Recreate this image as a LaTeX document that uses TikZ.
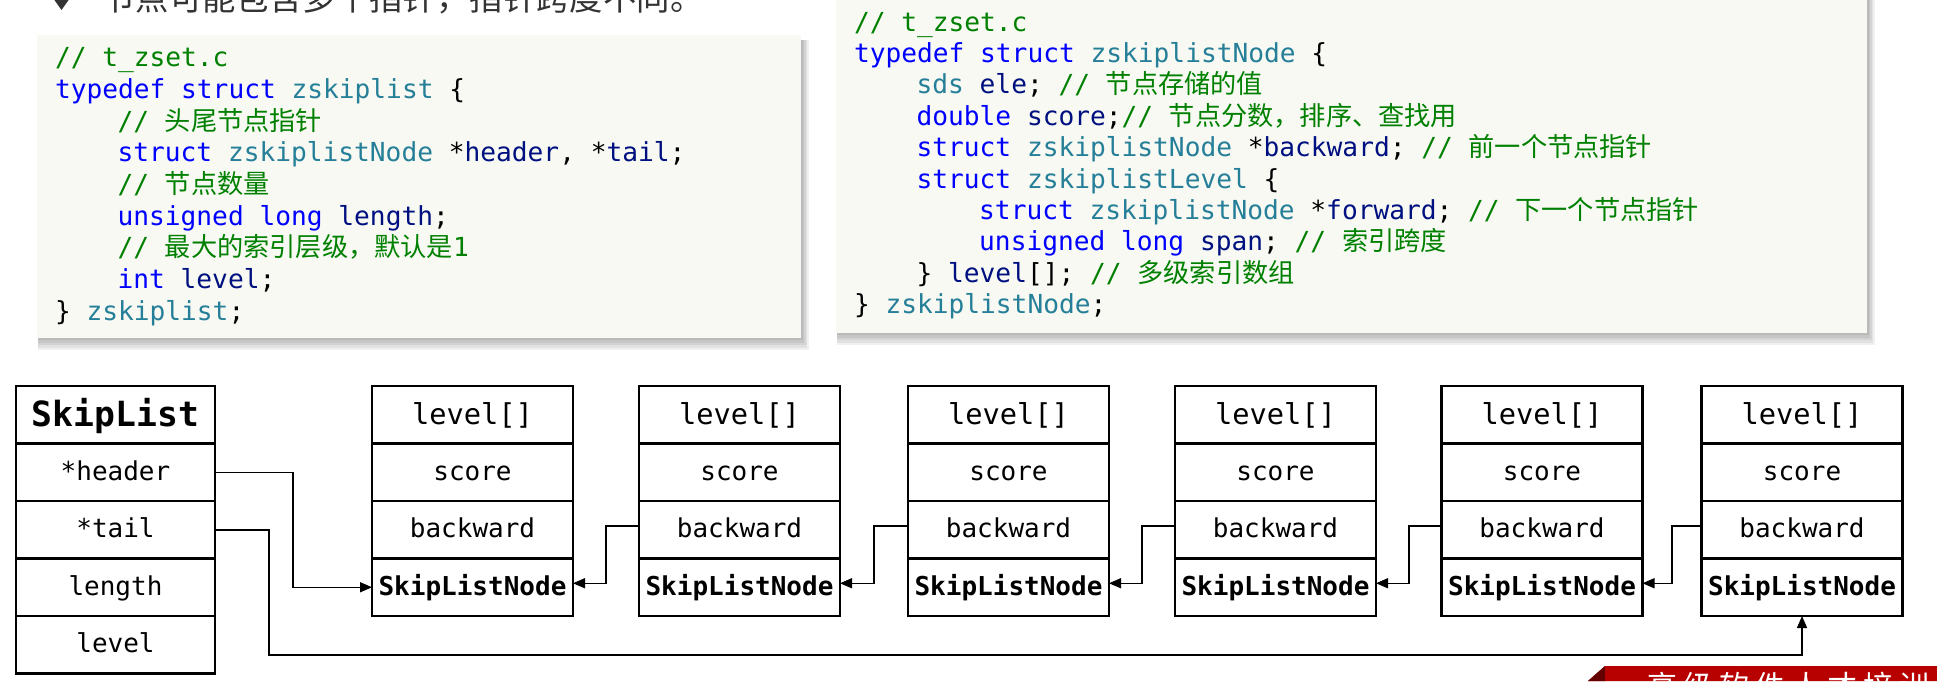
\documentclass[tikz,border=0pt]{standalone}
\usepackage{fontspec}
\usetikzlibrary{arrows.meta,calc}
\newfontfamily\codefont{DejaVu Sans Mono}
\newfontfamily\cjk{Noto Sans CJK SC}
\newfontfamily\bannerfont[LetterSpace=20]{Noto Sans CJK SC}
\definecolor{kwc}{HTML}{0000FF}
\definecolor{tyc}{HTML}{267F99}
\definecolor{vac}{HTML}{001080}
\definecolor{cmc}{HTML}{008000}
\definecolor{codebg}{RGB}{247,249,242}
\definecolor{bannerred}{RGB}{183,0,0}
\definecolor{titlegray}{RGB}{51,51,51}
\newcommand{\KW}[1]{\textcolor{kwc}{#1}}
\newcommand{\TY}[1]{\textcolor{tyc}{#1}}
\newcommand{\VA}[1]{\textcolor{vac}{#1}}
\newcommand{\CM}[1]{\textcolor{cmc}{#1}}
\newcommand{\ZH}[1]{{\cjk #1}}
\frenchspacing
\tikzset{
  codeline/.style={anchor=base west, inner sep=0pt, outer sep=0pt, font=\codefont\fontsize{26.2}{31}\selectfont},
  cell/.style={draw=black, line width=2.6pt, inner sep=0pt, outer sep=0pt, minimum height=57.5pt,
    font=\codefont\fontsize{26}{30}\selectfont, text height=18pt, text depth=2pt},
  nodecell/.style={cell, minimum width=201pt},
  slcell/.style={cell, minimum width=199pt},
  lvlcell/.style={font=\codefont\fontsize{28.7}{32}\selectfont, text height=21pt, text depth=1pt},
  boldcell/.style={font=\codefont\bfseries\fontsize{26}{30}\selectfont},
  titlecell/.style={font=\codefont\bfseries\fontsize{34.7}{38}\selectfont, text height=25pt, text depth=1pt},
  arr/.style={-{Triangle[length=12pt,width=10pt]}, line width=1.5pt, draw=black},
  shadowrect/.style={fill=black, opacity=0.06}
}
\begin{document}
\begin{tikzpicture}[x=1pt,y=-1pt]
\path[use as bounding box] (0,0) rectangle (1937,681);
\clip (0,0) rectangle (1937,681);
\fill[white] (0,0) rectangle (1937,681);

% title line (cut by the top edge)
\fill[titlegray] (61.5,10) -- (70,-2) -- (61.5,-14) -- (53,-2) -- cycle;
\node[anchor=base west, inner sep=0pt, text=titlegray, font=\cjk\fontsize{33.4}{36}\selectfont] (title) at (102,10.5) {节点可能包含多个指针，指针跨度不同。};

% left code box
\foreach \s in {2,4,6,8,10} {
  \fill[shadowrect] (38,40) rectangle (801+0.8*\s,338+1.2*\s);
}
\fill[codebg] (37,35) rectangle (801,338);
\node[codeline] (l1) at (55,66.7) {\CM{// t\_zset.c}};
\node[codeline] (l2) at (55,98.4) {\KW{typedef} \KW{struct} \TY{zskiplist} \{};
\node[codeline] (l3) at (117.6,130.1) {\CM{// \ZH{头尾节点指针}}};
\node[codeline] (l4) at (117.6,161.8) {\KW{struct} \TY{zskiplistNode} *\VA{header}, *\VA{tail};};
\node[codeline] (l5) at (117.6,193.5) {\CM{// \ZH{节点数量}}};
\node[codeline] (l6) at (117.6,225.2) {\KW{unsigned} \KW{long} \VA{length};};
\node[codeline] (l7) at (117.6,256.9) {\CM{// \ZH{最大的索引层级，默认是}1}};
\node[codeline] (l8) at (117.6,288.6) {\KW{int} \VA{level};};
\node[codeline] (l9) at (55,320.3) {\} \TY{zskiplist};};

% right code box
\foreach \s in {2,4,6,8,10} {
  \fill[shadowrect] (837,-10) rectangle (1867+0.8*\s,333+1.2*\s);
}
\fill[codebg] (836,-10) rectangle (1867,333);
\node[codeline] (r1) at (854,31) {\CM{// t\_zset.c}};
\node[codeline] (r2) at (854,62.4) {\KW{typedef} \KW{struct} \TY{zskiplistNode} \{};
\node[codeline] (r3) at (916.6,93.8) {\TY{sds} \VA{ele}; \CM{// \ZH{节点存储的值}}};
\node[codeline] (r4) at (916.6,125.2) {\KW{double} \VA{score};\CM{// \ZH{节点分数，排序、查找用}}};
\node[codeline] (r5) at (916.6,156.6) {\KW{struct} \TY{zskiplistNode} *\VA{backward}; \CM{// \ZH{前一个节点指针}}};
\node[codeline] (r6) at (916.6,188) {\KW{struct} \TY{zskiplistLevel} \{};
\node[codeline] (r7) at (979.2,219.4) {\KW{struct} \TY{zskiplistNode} *\VA{forward}; \CM{// \ZH{下一个节点指针}}};
\node[codeline] (r8) at (979.2,250.8) {\KW{unsigned} \KW{long} \VA{span}; \CM{// \ZH{索引跨度}}};
\node[codeline] (r9) at (916.6,282.2) {\} \VA{level}[]; \CM{// \ZH{多级索引数组}}};
\node[codeline] (r10) at (854,313.6) {\} \TY{zskiplistNode};};

% SkipList struct
\node[slcell, titlecell] (sl0) at (115.5,414.75) {SkipList};
\node[slcell] (sl1) at (115.5,472.25) {*header};
\node[slcell] (sl2) at (115.5,529.75) {*tail};
\node[slcell] (sl3) at (115.5,587.25) {length};
\node[slcell] (sl4) at (115.5,644.75) {level};

% skip list nodes
\foreach \i/\x in {1/472.5,2/739.5,3/1008.5,4/1275.5,5/1542,6/1802} {
  \node[nodecell, lvlcell] (n\i a) at (\x,414.75) {level[]};
  \node[nodecell] (n\i b) at (\x,472.25) {score};
  \node[nodecell] (n\i c) at (\x,529.75) {backward};
  \node[nodecell, boldcell] (n\i d) at (\x,587.25) {SkipListNode};
}

% backward pointers
\foreach \a/\b in {1/2,2/3,3/4,4/5,5/6} {
  \coordinate (g\a) at ($(n\a d.east)!0.5!(n\b d.west)$);
  \draw[arr] ([yshift=4pt]n\b c.west) -| ([yshift=4pt]g\a) -- ([yshift=4pt]n\a d.east);
}

% header and tail pointers
\coordinate (hx) at (293,0);
\draw[arr] (sl1.east) -| (hx |- n1d.west) -- (n1d.west);
\coordinate (tx) at (269,655);
\draw[arr] (sl2.east) -| (tx) -| (n6d.south);

% banner (cut by the bottom edge)
\fill[bannerred] (1605,666) -- (1937,666) -- (1937,681) -- (1588,681) -- cycle;
\fill[bannerred!55!black] (1588,681) -- (1605,666) -- (1605,681) -- cycle;
\node[anchor=base west, inner sep=0pt, text=white, font=\bannerfont\fontsize{30}{32}\selectfont] (banner) at (1647,697) {高级软件人才培训专家};
\end{tikzpicture}
\end{document}
